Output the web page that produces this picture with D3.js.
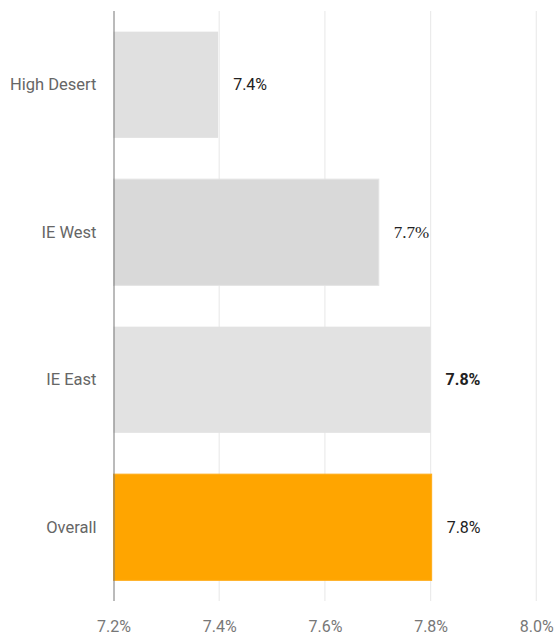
<!DOCTYPE html>
<html>
<head>
<meta charset="utf-8">
<script src="https://cdn.jsdelivr.net/npm/d3@7"></script>
<style>
  body { margin: 0; background: #fff; }
  svg { display: block; font-family: Roboto, "Noto Sans", sans-serif; }
</style>
</head>
<body>
<svg id="chart" width="557" height="635"></svg>
<script>
const regions = ['High Desert', 'IE West', 'IE East', 'Overall']
const rates = [7.398, 7.702, 7.8, 7.802]
const rateLabels = ['7.4%', '7.7%', '7.8%', '7.8%']
const xTicks = [7.2, 7.4, 7.6, 7.8, 8.0]
const barColors = ['#e0e0e0', '#d9d9d9', '#e2e2e2', '#ffa500']

const margin = {top: 11, right: 20, bottom: 34, left: 113.5}
const width = 557 - margin.left - margin.right
const height = 635 - margin.top - margin.bottom

const svg = d3.select('#chart')
const g = svg.append('g').attr('transform', `translate(${margin.left},${margin.top})`)

const x = d3.scaleLinear().domain([7.2, 8.0]).range([0, 422.8])
const y = d3.scaleBand().domain(regions).range([0, height])
    .paddingInner(0.28).paddingOuter(0.14)

// grid
g.selectAll('.grid')
    .data(xTicks.slice(1))
    .enter().append('line')
    .attr('class', 'grid')
    .attr('x1', d => x(d)).attr('x2', d => x(d))
    .attr('y1', 0).attr('y2', height)
    .attr('stroke', '#ebebeb')
    .attr('stroke-width', 1.2)

// bars
g.selectAll('.bar')
    .data(regions)
    .enter().append('rect')
    .attr('class', 'bar')
    .attr('x', 0)
    .attr('y', d => y(d))
    .attr('width', (d, i) => x(rates[i]) - x(7.2))
    .attr('height', y.bandwidth())
    .attr('fill', (d, i) => barColors[i])
    .attr('stroke', (d, i) => i == 3 ? '#ffad1a' : (i == 1 ? '#e3e3e3' : 'none'))
    .attr('stroke-width', 1)

// value labels
g.selectAll('.val')
    .data(regions)
    .enter().append('text')
    .attr('class', 'val')
    .attr('x', (d, i) => x(rates[i]) + 15)
    .attr('y', d => y(d) + y.bandwidth() / 2)
    .attr('dy', '0.35em')
    .attr('fill', '#222')
    .attr('font-size', (d, i) => i == 1 ? 17 : 16)
    .attr('font-weight', (d, i) => i == 2 ? 'bold' : 'normal')
    .attr('font-family', (d, i) => i == 1 ? '"Liberation Serif", "DejaVu Serif", serif' : 'Roboto, sans-serif')
    .text((d, i) => rateLabels[i])

// y axis
const yAxis = g.append('g').call(d3.axisLeft(y).tickSize(0).tickPadding(17))
yAxis.select('.domain').attr('stroke', '#777').attr('d', `M0.5,0V${height}`)
yAxis.selectAll('text')
    .attr('fill', '#666')
    .attr('font-size', 16.5)
    .attr('font-family', 'Roboto, sans-serif')

// x axis
const xAxis = g.append('g')
    .attr('transform', `translate(0,${height})`)
    .call(d3.axisBottom(x).tickValues(xTicks).tickSize(0).tickPadding(20)
        .tickFormat(d => d3.format('.1f')(d) + '%'))
xAxis.select('.domain').remove()
xAxis.selectAll('text')
    .attr('fill', '#777')
    .attr('font-size', 16)
    .attr('font-family', 'Roboto, sans-serif')
</script>
</body>
</html>
